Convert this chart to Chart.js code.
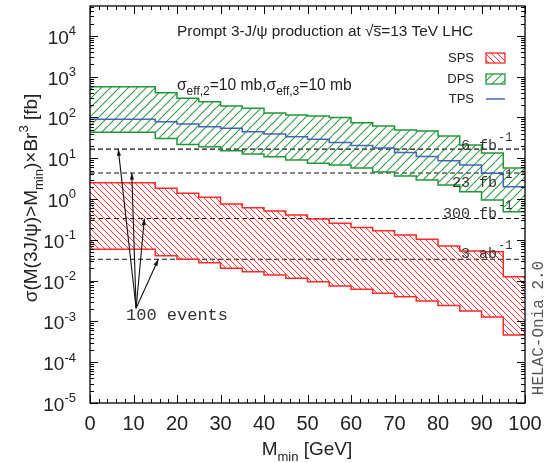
<!DOCTYPE html>
<html><head><meta charset="utf-8">
<script src="https://cdn.jsdelivr.net/npm/chart.js@4/dist/chart.umd.min.js"></script>
<style>html,body{margin:0;padding:0;background:#fff;}#wrap{width:546px;height:463px;position:relative;}</style>
</head><body><div id="wrap"><canvas id="c" width="546" height="463"></canvas></div>
<script>
// ---- data ----
const xEdges = [0,5,10,15,20,25,30,35,40,45,50,55,60,65,70,75,80,85,90,95];
const xMax = 100;
const dpsHigh = [565,565,565,403,294,243,190,167,128,115,108,99.5,74.2,61.5,49.1,46.4,35.0,21.1,13.4,5.75];
const dpsLow  = [43.1,43.1,43.1,30.7,21.7,19.1,15.3,12.7,10.9,9.03,7.50,6.81,5.75,4.59,3.66,2.92,2.20,1.51,0.944,0.489];
const tps     = [89.8,89.8,89.8,78.5,68.9,59.2,54.1,44.7,39.2,33.7,29.1,24.3,20.5,17.8,13.8,11.0,8.69,6.81,4.27,2.00];
const spsHigh = [2.51,2.51,2.51,1.83,1.38,1.10,0.753,0.612,0.508,0.406,0.324,0.254,0.202,0.167,0.131,0.103,0.0705,0.0531,0.0511,0.0125];
const spsLow  = [0.0585,0.0585,0.0585,0.0407,0.0333,0.0275,0.0200,0.0165,0.0137,0.0114,0.0094,0.00738,0.00612,0.00489,0.00403,0.00316,0.00246,0.0018,0.00128,0.000465];
// 100-event lines for the luminosities
const lumiNum   = ['6','23','300','3'];
const lumiUnit  = ['fb','fb','fb','ab'];
const lumiXsec  = [16.7, 4.35, 0.333, 0.0333];
const arrowTipX = [6.5, 9.6, 12.5, 15.7];
const arrowTail = {x:10.6, y:0.0021};
const xTicks = [0,10,20,30,40,50,60,70,80,90,100];
const yTickExp = [-5,-4,-3,-2,-1,0,1,2,3,4];
const yMin = 1e-5, yMax = 5.4e4;

function steps(vals){ const d = xEdges.map((x,i)=>({x:x, y:vals[i]})); d.push({x:xMax, y:vals[vals.length-1]}); return d; }
function hatch(color, s, dir, lw){
  const c = document.createElement('canvas'); c.width = s; c.height = s;
  const g = c.getContext('2d'); g.strokeStyle = color; g.lineWidth = lw; g.beginPath();
  for (let k=-1;k<=1;k++){
    if (dir>0){ g.moveTo(k*s, s); g.lineTo(k*s+s, 0); }
    else { g.moveTo(k*s, 0); g.lineTo(k*s+s, s); }
  }
  g.stroke();
  return g.createPattern(c,'repeat');
}
const RED='#ff2a2a', GREEN='#23963a', BLUE='#4565b5';
const redHatch = hatch('#ff3a3a', 6, -1, 1);
const greenHatch = hatch('#2f9c45', 9, 1, 1.1);

function band(vals, fill, color, bg){
  return {data: steps(vals), stepped:true, borderColor:color, borderWidth:1.5, pointRadius:0, fill:fill, backgroundColor:bg, tension:0};
}
const datasets = [
  {label:'TPS', data: steps(tps), stepped:true, borderColor:BLUE, borderWidth:1.5, pointRadius:0, fill:false},
  band(dpsHigh, '+1', GREEN, greenHatch),
  band(dpsLow, false, GREEN, 'transparent'),
  band(spsHigh, '+1', RED, redHatch),
  band(spsLow, false, RED, 'transparent')
];
lumiXsec.forEach(v=>datasets.push({data:[{x:0,y:v},{x:xMax,y:v}], borderColor:'#111', borderWidth:1.1, borderDash:[5,3], pointRadius:0, fill:false}));

function rich(ctx, parts, x, y, align, size, fam, subScale){
  const sc = subScale || 0.7;
  let w = 0;
  const m = parts.map(p=>{ const k=p[1]||'n'; const s=(k==='sub'||k==='sup')?Math.round(size*sc):size; ctx.font=s+'px '+fam; const pw=ctx.measureText(p[0]).width; w+=pw; return {t:p[0],k:k,s:s,pw:pw}; });
  let cx = align==='right'? x-w : align==='center'? x-w/2 : x;
  for (const p of m){
    ctx.font = p.s+'px '+fam;
    const dy = p.k==='sub'? size*0.3 : p.k==='sup'? -size*0.45 : 0;
    ctx.fillText(p.t, cx, y+dy);
    if (p.k==='over'){ ctx.save(); ctx.lineWidth=1; ctx.strokeStyle=ctx.fillStyle; ctx.beginPath(); ctx.moveTo(cx, y-size*0.62); ctx.lineTo(cx+p.pw, y-size*0.62); ctx.stroke(); ctx.restore(); }
    cx += p.pw;
  }
  return w;
}

const deco = {
  id:'deco',
  afterDraw(chart){
    const ctx = chart.ctx, a = chart.chartArea, X = chart.scales.x, Y = chart.scales.y;
    const SANS = '"Liberation Sans", Arial, sans-serif', MONO = '"Liberation Mono", "Courier New", monospace';
    ctx.save();
    ctx.textBaseline = 'alphabetic'; ctx.textAlign = 'left';
    // frame
    ctx.strokeStyle = '#000'; ctx.lineWidth = 1.3;
    ctx.strokeRect(a.left, a.top, a.right-a.left, a.bottom-a.top);
    ctx.lineWidth = 1;
    ctx.beginPath();
    // x ticks (inward, mirrored)
    for (let v=0; v<=xMax; v+=2){
      const px = Math.round(X.getPixelForValue(v))+0.5;
      const L = (v%10===0)? 8 : 4;
      ctx.moveTo(px, a.bottom); ctx.lineTo(px, a.bottom-L);
      ctx.moveTo(px, a.top); ctx.lineTo(px, a.top+L);
    }
    // y ticks
    for (let e=-5; e<=4; e++){
      for (let k=1; k<=9; k++){
        const v = k*Math.pow(10,e); if (v<yMin || v>yMax) continue;
        const py = Math.round(Y.getPixelForValue(v))+0.5;
        const L = k===1? 8 : 4;
        ctx.moveTo(a.left, py); ctx.lineTo(a.left+L, py);
        ctx.moveTo(a.right, py); ctx.lineTo(a.right-L, py);
      }
    }
    ctx.stroke();
    // tick labels
    ctx.fillStyle = '#222';
    ctx.font = '20px '+SANS; ctx.textAlign='center';
    xTicks.forEach(v=>ctx.fillText(String(v), X.getPixelForValue(v), 430));
    ctx.textAlign='left';
    yTickExp.forEach(e=>{ const py = Y.getPixelForValue(Math.pow(10,e)); rich(ctx, [['10'],[String(e),'sup']], 76, py+8, 'right', 19, SANS); });
    // axis titles
    rich(ctx, [['M'],['min','sub'],[' [GeV]']], 307, 455, 'center', 19, SANS);
    ctx.save(); ctx.translate(37, 198); ctx.rotate(-Math.PI/2);
    rich(ctx, [['σ(M(3J/ψ)>M'],['min','sub'],[')×Br'],['3','sup'],[' [fb]']], 0, 0, 'center', 19, SANS);
    ctx.restore();
    // title and sigma_eff text
    rich(ctx, [['Prompt 3-J/ψ production at √'],['s','over'],['=13 TeV LHC']], 177, 36, 'left', 15.4, SANS);
    rich(ctx, [['σ'],['eff,2','sub'],['=10 mb,σ'],['eff,3','sub'],['=10 mb']], 177, 90, 'left', 15.6, SANS, 0.78);
    // legend
    ctx.font = '13px '+SANS; ctx.textAlign='right';
    ctx.fillText('SPS', 474, 62); ctx.fillText('DPS', 474, 83); ctx.fillText('TPS', 474, 103);
    ctx.textAlign='left';
    ctx.fillStyle = redHatch; ctx.fillRect(486, 53, 19, 10);
    ctx.strokeStyle = RED; ctx.lineWidth=1.3; ctx.strokeRect(486, 53, 19, 10);
    ctx.fillStyle = greenHatch; ctx.fillRect(486, 74, 19, 10);
    ctx.strokeStyle = GREEN; ctx.strokeRect(486, 74, 19, 10);
    ctx.strokeStyle = BLUE; ctx.lineWidth=1.5; ctx.beginPath(); ctx.moveTo(486, 99); ctx.lineTo(505, 99); ctx.stroke();
    // lumi labels
    ctx.fillStyle = '#333';
    const lblDy = [1, 14, -1, -1];
    lumiXsec.forEach((v,i)=>{
      const py = Y.getPixelForValue(v) + lblDy[i];
      ctx.font = '15px '+MONO; ctx.textAlign='right';
      ctx.fillText(lumiNum[i]+' '+lumiUnit[i], 497, py);
      ctx.textAlign='left'; ctx.font = '12px '+MONO;
      ctx.fillText('-1', 498, py-9);
    });
    // 100 events
    ctx.font = '17px '+MONO; ctx.textAlign='left';
    ctx.fillText('100 events', 126, 320);
    // arrows
    ctx.strokeStyle = '#111'; ctx.fillStyle = '#111'; ctx.lineWidth = 1.1;
    const tx = X.getPixelForValue(arrowTail.x), ty = Y.getPixelForValue(arrowTail.y);
    arrowTipX.forEach((xv,i)=>{
      const hx = X.getPixelForValue(xv), hy = Y.getPixelForValue(lumiXsec[i]);
      ctx.beginPath(); ctx.moveTo(tx,ty); ctx.lineTo(hx,hy); ctx.stroke();
      const ang = Math.atan2(hy-ty, hx-tx), L=7, W=0.3;
      ctx.beginPath(); ctx.moveTo(hx,hy);
      ctx.lineTo(hx-L*Math.cos(ang-W), hy-L*Math.sin(ang-W));
      ctx.lineTo(hx-L*Math.cos(ang+W), hy-L*Math.sin(ang+W));
      ctx.closePath(); ctx.fill();
    });
    // HELAC-Onia label
    ctx.save(); ctx.translate(543, 328); ctx.rotate(-Math.PI/2);
    ctx.fillStyle = '#555'; ctx.font = '16px '+MONO; ctx.textAlign='center';
    ctx.fillText('HELAC-Onia 2.0', 0, 0);
    ctx.restore();
    ctx.restore();
  }
};

new Chart(document.getElementById('c'), {
  type:'line',
  data:{datasets: datasets},
  options:{
    responsive:false, animation:false, devicePixelRatio:1,
    layout:{padding:{left:90, right:21, top:6, bottom:60}},
    plugins:{legend:{display:false}, tooltip:{enabled:false}, filler:{propagate:false}},
    scales:{
      x:{type:'linear', min:0, max:xMax, display:false},
      y:{type:'logarithmic', min:yMin, max:yMax, display:false}
    }
  },
  plugins:[deco]
});
</script></body></html>
